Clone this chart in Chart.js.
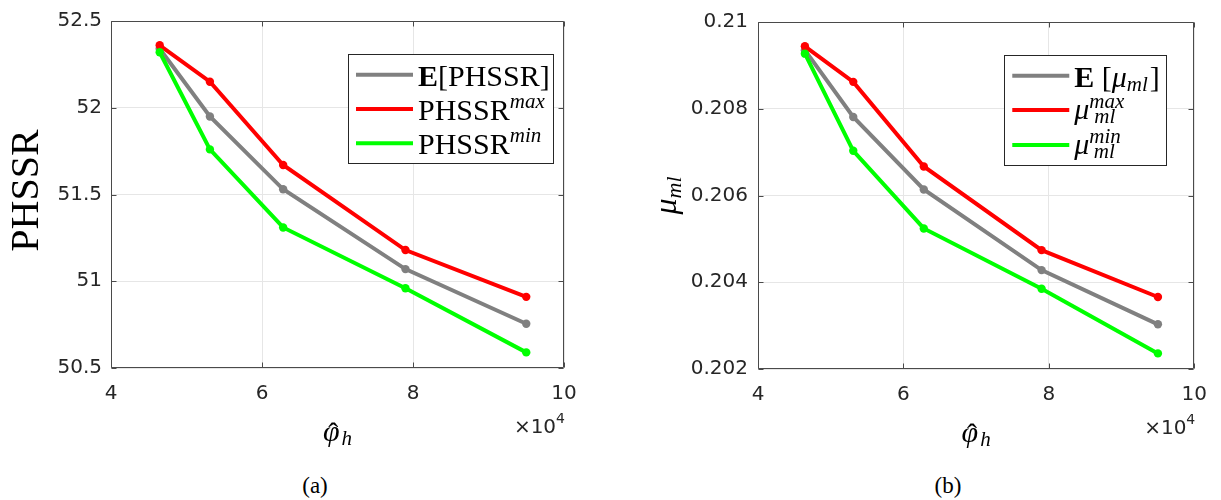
<!DOCTYPE html>
<html><head><meta charset="utf-8">
<script src="https://cdn.jsdelivr.net/npm/chart.js@4/dist/chart.umd.min.js"></script>
<style>
html,body{margin:0;padding:0;background:#fff;width:1221px;height:500px;overflow:hidden;}
#wa{position:absolute;left:0;top:0;width:600px;height:470px;}
#wb{position:absolute;left:620px;top:0;width:601px;height:470px;}
.cap{position:absolute;top:474px;font-family:'Liberation Serif',serif;font-size:23px;line-height:1;color:#000;transform:translateX(-50%);white-space:nowrap;}
</style></head><body>
<div id="wa"><canvas id="ca" width="600" height="470"></canvas></div>
<div id="wb"><canvas id="cb" width="601" height="470"></canvas></div>
<div class="cap" style="left:315px">(a)</div>
<div class="cap" style="left:948px">(b)</div>
<script>
// ---- data (x in raw units; axis shows ×10^4) ----
const phi = [46450, 53100, 62800, 79000, 95000];
const phssrMean = [52.34, 51.95, 51.53, 51.07, 50.755];
const phssrMax  = [52.36, 52.15, 51.67, 51.18, 50.91];
const phssrMin  = [52.32, 51.76, 51.31, 50.96, 50.59];
const muMean = [0.20935, 0.20781, 0.20614, 0.20428, 0.20303];
const muMax  = [0.20944, 0.20862, 0.20667, 0.20474, 0.20366];
const muMin  = [0.20927, 0.20703, 0.20524, 0.20385, 0.20236];
const xTicks = [40000, 60000, 80000, 100000];
const xTickLabels = ['4', '6', '8', '10'];
const phssrTicks = [50.5, 51, 51.5, 52, 52.5];
const phssrTickLabels = ['50.5', '51', '51.5', '52', '52.5'];
const muTicks = [0.202, 0.204, 0.206, 0.208, 0.21];
const muTickLabels = ['0.202', '0.204', '0.206', '0.208', '0.21'];

const GRAY = '#808080', RED = '#ff0000', GREEN = '#00ff00';
const SERIF = "'Liberation Serif', 'DejaVu Serif', serif";
const SANS = "'DejaVu Sans', sans-serif";
const TXT = '#262626';

function pts(xs, ys){ return xs.map((x,i)=>({x:x, y:ys[i]})); }

function ds(label, color, xs, ys, order){
  return {label, data: pts(xs, ys), borderColor: color, backgroundColor: color,
    borderWidth: 4, pointRadius: 4.2, pointBorderWidth: 0, pointBackgroundColor: color,
    pointHoverRadius: 4.2, tension: 0, order};
}

function drawRich(ctx, x, y, segs){
  let cx = x;
  segs.forEach(s=>{
    ctx.font = s.f;
    cx += (s.dx||0);
    ctx.fillText(s.t, cx, y + (s.dy||0));
    cx += ctx.measureText(s.t).width;
  });
  return cx;
}

const deco = {
  id: 'deco',
  beforeDatasetsDraw(chart){
    const {ctx, chartArea:a, scales:{x, y}} = chart;
    ctx.save();
    ctx.strokeStyle = '#4a4a4a'; ctx.lineWidth = 1;
    const L = Math.round(a.left)+0.5, T = Math.round(a.top)+0.5, R = Math.round(a.right)-0.5, B = Math.round(a.bottom)-0.5;
    ctx.beginPath();
    ctx.rect(L, T, R-L, B-T);
    x.ticks.forEach(t=>{
      const p = Math.round(x.getPixelForValue(t.value))+0.5;
      ctx.moveTo(p, B); ctx.lineTo(p, B-5);
      ctx.moveTo(p, T); ctx.lineTo(p, T+5);
    });
    y.ticks.forEach(t=>{
      const p = Math.round(y.getPixelForValue(t.value))+0.5;
      ctx.moveTo(L, p); ctx.lineTo(L+5, p);
      ctx.moveTo(R, p); ctx.lineTo(R-5, p);
    });
    ctx.stroke();
    ctx.restore();
  },
  afterDraw(chart, args, o){
    const {ctx, chartArea:a} = chart;
    ctx.save();
    ctx.fillStyle = '#000';
    ctx.textBaseline = 'alphabetic';
    // legend
    const lg = o.legend;
    const bx = a.right - lg.right - lg.w, by = a.top + lg.top;
    ctx.fillStyle = '#fff';
    ctx.fillRect(bx, by, lg.w, lg.h);
    ctx.strokeStyle = '#262626'; ctx.lineWidth = 1;
    ctx.strokeRect(Math.round(bx)+0.5, Math.round(by)+0.5, Math.round(lg.w), Math.round(lg.h));
    lg.rows.forEach(r=>{
      const d = chart.data.datasets[r.ds];
      const cy = by + r.cy;
      ctx.strokeStyle = d.borderColor; ctx.lineWidth = 4; ctx.lineCap = 'butt';
      ctx.beginPath(); ctx.moveTo(bx+8, cy); ctx.lineTo(bx+65, cy); ctx.stroke();
      ctx.fillStyle = '#000'; ctx.textAlign = 'left';
      drawRich(ctx, bx+70, cy + r.base, r.segs);
    });
    // y title
    ctx.save();
    ctx.translate(o.ytitle.x, (a.top+a.bottom)/2 + o.ytitle.dy);
    ctx.rotate(-Math.PI/2);
    ctx.fillStyle = '#000';
    let tw = 0;
    o.ytitle.segs.forEach(s=>{ ctx.font = s.f; tw += ctx.measureText(s.t).width + (s.dx||0); });
    drawRich(ctx, -tw/2, 0, o.ytitle.segs);
    ctx.restore();
    // x title: phi-hat with subscript h
    const xc = (a.left + a.right)/2;
    const yb = a.bottom + 73;
    ctx.fillStyle = '#000';
    ctx.font = 'italic 30px ' + SERIF;
    const pw = ctx.measureText('φ').width;
    ctx.font = 'italic 21px ' + SERIF;
    const hw = ctx.measureText('h').width;
    const x0 = xc - (pw + hw + 2)/2;
    ctx.font = 'italic 30px ' + SERIF;
    ctx.textAlign = 'left';
    ctx.fillText('φ', x0, yb);
    ctx.font = '30px ' + SERIF;
    ctx.textAlign = 'center';
    ctx.fillText('ˆ', x0 + pw/2 + 2, yb + 2);
    ctx.textAlign = 'left';
    ctx.font = 'italic 21px ' + SERIF;
    ctx.fillText('h', x0 + pw + 2, yb + 4);
    // ×10^4
    ctx.fillStyle = TXT;
    ctx.font = '14px ' + SANS;
    const w4 = ctx.measureText('4').width;
    ctx.font = '20px ' + SANS;
    const w10 = ctx.measureText('×10').width;
    const xr = a.right + 1;
    ctx.fillText('×10', xr - w4 - w10, a.bottom + 65);
    ctx.font = '14px ' + SANS;
    ctx.fillText('4', xr - w4, a.bottom + 55);
    ctx.restore();
  }
};

function makeChart(id, datasets, yTicks, yLabels, yMin, yMax, axisW, padRight, xAxisH, yPad, deco_opts){
  return new Chart(document.getElementById(id), {
    type: 'line',
    data: { datasets },
    options: {
      responsive: false, animation: false, devicePixelRatio: 1,
      layout: { padding: { top: 17, right: padRight, left: 0, bottom: 50 } },
      plugins: { legend: { display: false }, tooltip: { enabled: false }, deco: deco_opts },
      scales: {
        x: {
          type: 'linear', min: 40000, max: 100000,
          afterBuildTicks: s => { s.ticks = xTicks.map(v=>({value: v})); },
          afterFit: s => { s.height = xAxisH; },
          grid: { color: '#e6e6e6', drawTicks: false, lineWidth: 1 },
          border: { display: false },
          ticks: { padding: 14, color: TXT, font: { family: SANS, size: 20 }, maxRotation: 0,
            callback: (v) => xTickLabels[xTicks.indexOf(v)] }
        },
        y: {
          type: 'linear', min: yMin, max: yMax,
          afterBuildTicks: s => { s.ticks = yTicks.map(v=>({value: v})); },
          afterFit: s => { s.width = axisW; },
          grid: { color: '#e6e6e6', drawTicks: false, lineWidth: 1 },
          border: { display: false },
          ticks: { padding: yPad, color: TXT, font: { family: SANS, size: 20 },
            callback: (v) => yLabels[yTicks.indexOf(v)] }
        }
      }
    },
    plugins: [deco]
  });
}

const itl = 'italic 21px ' + SERIF;
const rom = '30px ' + SERIF;
const bold = 'bold 30px ' + SERIF;
const mu = 'italic 30px ' + SERIF;

makeChart('ca', [
  ds('E[PHSSR]', GRAY, phi, phssrMean, 2),
  ds('PHSSR max', RED, phi, phssrMax, 1),
  ds('PHSSR min', GREEN, phi, phssrMin, 0)
], phssrTicks, phssrTickLabels, 50.5, 52.5, 111, 36, 52, 9, {
  legend: { right: 11, top: 33, w: 205, h: 109, rows: [
    { ds: 0, cy: 20.7, base: 11, segs: [{t:'E', f: bold}, {t:'[PHSSR]', f: rom}] },
    { ds: 1, cy: 55, base: 11, segs: [{t:'PHSSR', f: rom}, {t:'max', f: itl, dy: -12}] },
    { ds: 2, cy: 89.3, base: 11, segs: [{t:'PHSSR', f: rom}, {t:'min', f: itl, dy: -12}] }
  ]},
  ytitle: { x: 38, dy: -4, segs: [{t:'PHSSR', f: '40px ' + SERIF}] }
});

makeChart('cb', [
  ds('E[mu_ml]', GRAY, phi, muMean, 2),
  ds('mu max', RED, phi, muMax, 1),
  ds('mu min', GREEN, phi, muMin, 0)
], muTicks, muTickLabels, 0.202, 0.21, 138, 24, 51, 10, {
  legend: { right: 28, top: 33, w: 162, h: 110, rows: [
    { ds: 0, cy: 20.7, base: 11, segs: [{t:'E', f: bold}, {t:' [', f: rom}, {t:'μ', f: mu}, {t:'ml', f: itl, dy: 4}, {t:']', f: rom, dx: 2}] },
    { ds: 1, cy: 55, base: 9, segs: [{t:'μ', f: mu}, {t:'max', f: itl, dy: -11}, {t:'ml', f: itl, dy: 4, dx: -30}] },
    { ds: 2, cy: 90, base: 9, segs: [{t:'μ', f: mu}, {t:'min', f: itl, dy: -11}, {t:'ml', f: itl, dy: 4, dx: -27}] }
  ]},
  ytitle: { x: 56, dy: 0, segs: [{t:'μ', f: 'italic 32px ' + SERIF}, {t:'ml', f: 'italic 22px ' + SERIF, dy: 5}] }
});
</script>
</body></html>
